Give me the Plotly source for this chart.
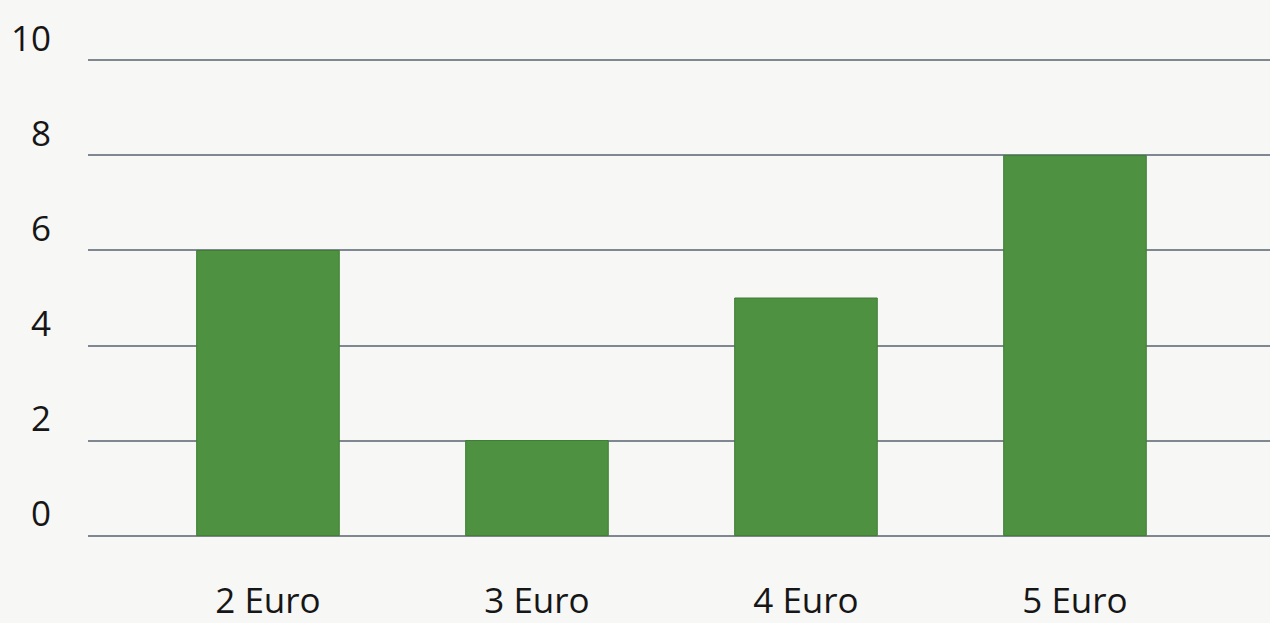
import plotly.graph_objs as go

categories = ["2 Euro", "3 Euro", "4 Euro", "5 Euro"]
counts = [6, 2, 5, 8]
y_ticks = [0, 2, 4, 6, 8, 10]

bar_color = "#4e9141"
grid_color = "#7f8891"
text_color = "#161616"

fig = go.Figure(data=[go.Bar(
    x=categories,
    y=counts,
    width=0.53,
    marker=dict(color=bar_color, line=dict(color="#3f7d35", width=1)),
    hoverinfo="x+y"
)])

fig.update_layout(
    width=1270,
    height=623,
    paper_bgcolor="#f7f7f5",
    plot_bgcolor="#f7f7f5",
    font=dict(family="Open Sans", color=text_color),
    showlegend=False,
    margin=dict(l=88, r=0, t=59, b=81),
    xaxis=dict(
        type="category",
        range=[-0.669, 3.725],
        showgrid=False,
        zeroline=False,
        showline=False,
        ticks="",
        tickfont=dict(size=35),
        ticklabelstandoff=40,
    ),
    yaxis=dict(
        range=[-0.03, 10.03],
        tickvals=y_ticks,
        showgrid=True,
        gridcolor=grid_color,
        gridwidth=2,
        zeroline=False,
        showline=False,
        ticks="",
        tickfont=dict(size=35),
        ticklabelshift=-22,
        ticklabelstandoff=36,
    ),
)

fig.write_html("out.html", config={"displayModeBar": False},
               post_script="document.body.style.margin='0';")
